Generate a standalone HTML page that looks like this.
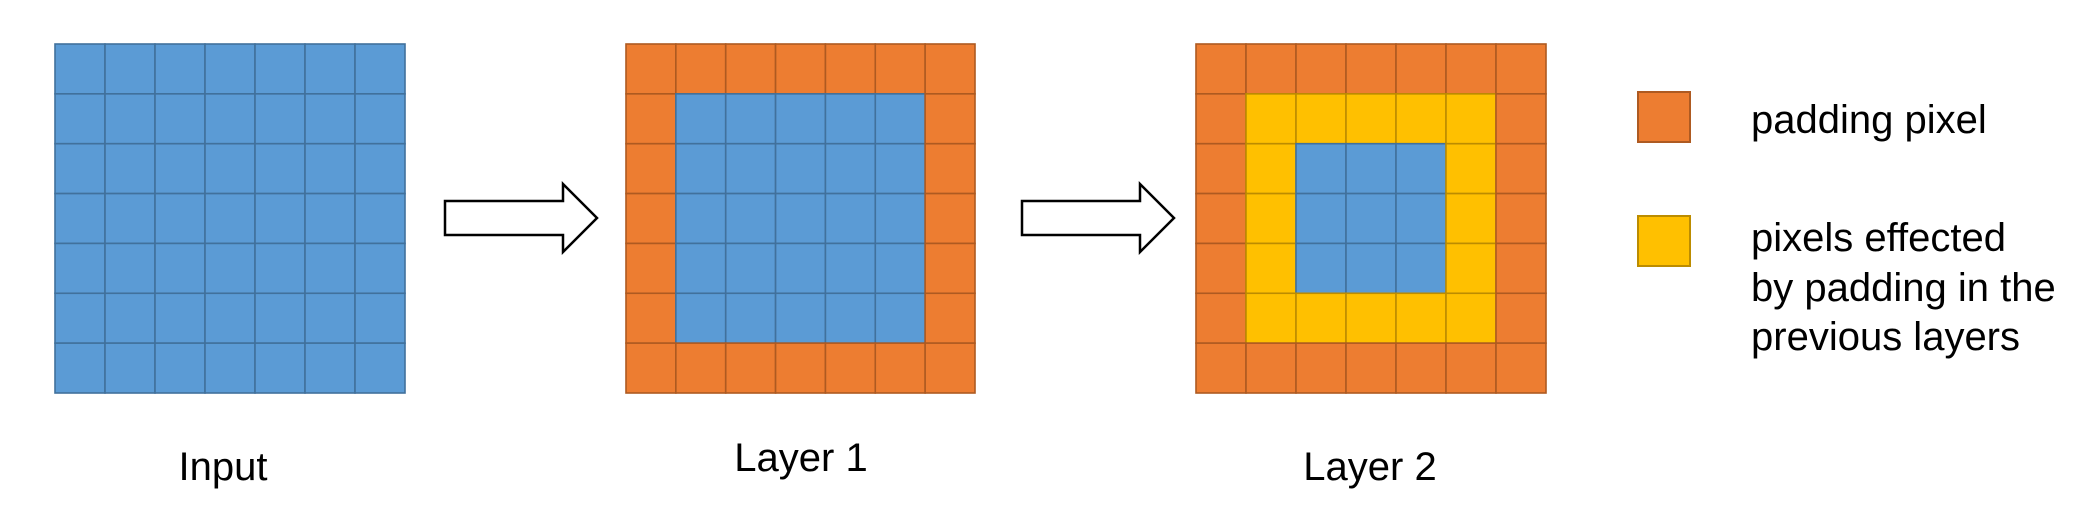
<!DOCTYPE html>
<html><head><meta charset="utf-8"><style>
html,body{margin:0;padding:0;background:#fff;}
svg{display:block;font-family:"Liberation Sans",Arial,sans-serif;}
</style></head><body>
<svg id="fig" width="2083" height="521" viewBox="0 0 2083 521">
<g id="grids"></g>
<g><polygon points="445,201 563,201 563,184 597,218 563,252 563,235 445,235" fill="#fff" stroke="#000" stroke-width="2.5"/></g>
<g><polygon points="1022,201 1140,201 1140,184 1174,218 1140,252 1140,235 1022,235" fill="#fff" stroke="#000" stroke-width="2.5"/></g>
<text x="223" y="480" font-size="40" text-anchor="middle" fill="#000">Input</text>
<text x="801" y="471" font-size="40" text-anchor="middle" fill="#000">Layer 1</text>
<text x="1370" y="480" font-size="40" text-anchor="middle" fill="#000">Layer 2</text>
<rect x="1638" y="92" width="52" height="50" fill="#ED7D31" stroke="#AE5A21" stroke-width="2"/>
<text x="1751" y="133" font-size="40" fill="#000">padding pixel</text>
<rect x="1638" y="216" width="52" height="50" fill="#FFC000" stroke="#BC8C00" stroke-width="2"/>
<text font-size="40" fill="#000"><tspan x="1751" y="251">pixels effected</tspan><tspan x="1751" y="301">by padding in the</tspan><tspan x="1751" y="350">previous layers</tspan></text>
</svg>
<script>
// 0 = input (blue), 1 = padding (orange), 2 = affected (yellow)
const gridInput = [
 [0,0,0,0,0,0,0],[0,0,0,0,0,0,0],[0,0,0,0,0,0,0],[0,0,0,0,0,0,0],[0,0,0,0,0,0,0],[0,0,0,0,0,0,0],[0,0,0,0,0,0,0]];
const gridLayer1 = [
 [1,1,1,1,1,1,1],[1,0,0,0,0,0,1],[1,0,0,0,0,0,1],[1,0,0,0,0,0,1],[1,0,0,0,0,0,1],[1,0,0,0,0,0,1],[1,1,1,1,1,1,1]];
const gridLayer2 = [
 [1,1,1,1,1,1,1],[1,2,2,2,2,2,1],[1,2,0,0,0,2,1],[1,2,0,0,0,2,1],[1,2,0,0,0,2,1],[1,2,2,2,2,2,1],[1,1,1,1,1,1,1]];
const gridNames = ['input-grid','layer-1-grid','layer-2-grid'];
const grids = [gridInput, gridLayer1, gridLayer2];
const panels = [{x0:55,x1:405},{x0:626,x1:975},{x0:1196,x1:1546}];
const fills = ['#5B9BD5','#ED7D31','#FFC000'];
const strokes = ['#41719C','#AE5A21','#BC8C00'];
const NS='http://www.w3.org/2000/svg';
const root=document.getElementById('grids');
const y0=44, y1=393;
grids.forEach((g,gi)=>{
  const grp=document.createElementNS(NS,'g');
  
  
  root.appendChild(grp);
  const p=panels[gi];
  const rows=g.length, cols=g[0].length;
  const cw=(p.x1-p.x0)/cols, ch=(y1-y0)/rows;
  g.forEach((row,r)=>row.forEach((v,c)=>{
    const rc=document.createElementNS(NS,'rect');
    rc.setAttribute('x',p.x0+c*cw);
    rc.setAttribute('y',y0+r*ch);
    rc.setAttribute('width',cw);
    rc.setAttribute('height',ch);
    rc.setAttribute('fill',fills[v]);
    rc.setAttribute('stroke',strokes[v]);
    rc.setAttribute('stroke-width','1.6');
    
    
    grp.appendChild(rc);
  }));
});
</script>
</body></html>
